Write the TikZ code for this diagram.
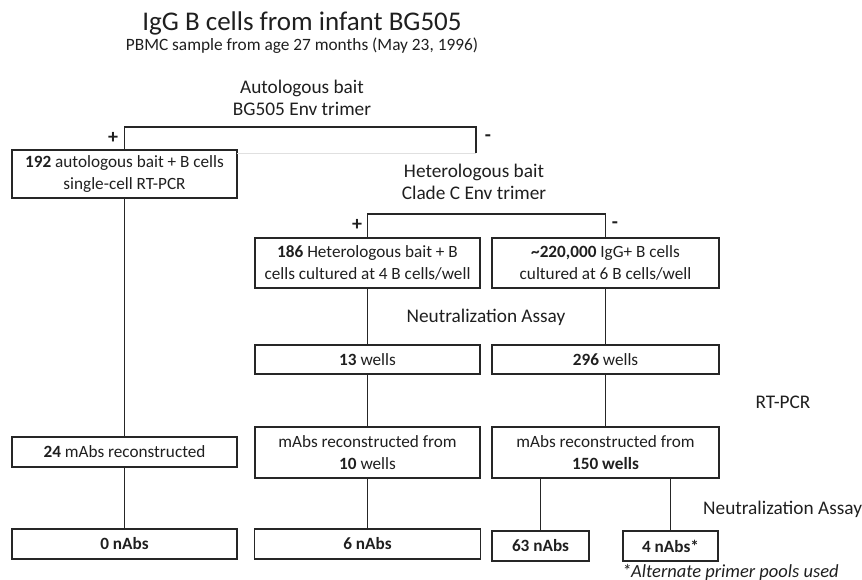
\documentclass[tikz,border=0pt]{standalone}
\usepackage{fontspec}
\setmainfont{Carlito}
\begin{document}
\begin{tikzpicture}[x=1pt,y=-1pt,
  every node/.style={inner sep=0pt, outer sep=0pt, text=black!88},
  bx/.style={draw=black!85, line width=1.4pt, align=center, font=\fontsize{17.2}{21.5}\selectfont},
  bxb/.style={bx, font=\fontsize{17.2}{21.5}\selectfont\bfseries},
  conn/.style={draw=black!85, line width=1.3pt},
  lbl/.style={align=center, font=\fontsize{19.3}{22}\selectfont},
  sgn/.style={font=\fontsize{20}{20}\selectfont\bfseries}]
\useasboundingbox (0,0) rectangle (862,580);
% titles
\node[font=\fontsize{27}{30}\selectfont] (title) at (302,23) {IgG B cells from infant BG505};
\node[font=\fontsize{17.3}{20}\selectfont] (sub) at (302,46) {PBMC sample from age 27 months (May 23, 1996)};
\node[lbl] (auto) at (302,98) {Autologous bait\\BG505 Env trimer};
\node[lbl] (het) at (474,182) {Heterologous bait\\Clade C Env trimer};
\node[lbl] (neut1) at (486,317) {Neutralization Assay};
\node[lbl] (rt) at (783,402) {RT-PCR};
\node[lbl, anchor=east] (neut2) at (862,509) {Neutralization Assay};
\node[font=\fontsize{18.5}{20}\selectfont\itshape, anchor=west] (alt) at (622,572) {*Alternate primer pools used};
% boxes
\node[bx, minimum width=225pt, minimum height=48pt] (b1) at (124.5,174) {\textbf{192} autologous bait + B cells\\single-cell RT-PCR};
\node[bx, minimum width=225pt, minimum height=50pt] (hA) at (367.5,263) {\textbf{186} Heterologous bait + B\\cells cultured at 4 B cells/well};
\node[bx, minimum width=227pt, minimum height=50pt] (hB) at (605.5,263) {\textbf{\textasciitilde 220,000} IgG+ B cells\\cultured at 6 B cells/well};
\node[bx, minimum width=225pt, minimum height=29pt] (w13) at (367.5,359.5) {\textbf{13} wells};
\node[bx, minimum width=227pt, minimum height=29pt] (w296) at (605.5,359.5) {\textbf{296} wells};
\node[bx, minimum width=225pt, minimum height=30pt] (m24) at (124.5,452) {\textbf{24} mAbs reconstructed};
\node[bx, minimum width=225pt, minimum height=51pt] (m10) at (367.5,452.5) {mAbs reconstructed from\\\textbf{10} wells};
\node[bx, minimum width=227pt, minimum height=51pt] (m150) at (605.5,452.5) {mAbs reconstructed from\\\textbf{150 wells}};
\node[bxb, minimum width=225pt, minimum height=30pt] (n0) at (124.5,544) {0 nAbs};
\node[bxb, minimum width=226pt, minimum height=30pt] (n6) at (367.5,544) {6 nAbs};
\node[bxb, minimum width=97pt, minimum height=30pt] (n63) at (540.5,546) {63 nAbs};
\node[bxb, minimum width=95pt, minimum height=30pt] (n4) at (670.5,546) {4 nAbs*};
% signs
\node[sgn] (p1) at (113,138) {+};
\node[sgn] (m1) at (488,138) {-};
\node[sgn] (p2) at (357,225) {+};
\node[sgn] (m2) at (615,225) {-};
% bracket 1
\coordinate (t1) at (124.5,127);
\coordinate (t2) at (476,127);
\coordinate (r1) at (476,153);
\coordinate (g1) at (237,153);
\draw[black!12, line width=0.8pt] (g1) -- (r1);
\draw[conn] (b1.north) -- (t1) -- (t2) -- (r1);
% bracket 2
\coordinate (t3) at (367.5,214);
\coordinate (t4) at (605.5,214);
\draw[conn] (hA.north) -- (t3) -- (t4) -- (hB.north);
% vertical connectors
\draw[conn] (b1.south) -- (m24.north);
\draw[conn] (m24.south) -- (n0.north);
\draw[conn] (hA.south) -- (w13.north);
\draw[conn] (hB.south) -- (w296.north);
\draw[conn] (w13.south) -- (m10.north);
\draw[conn] (w296.south) -- (m150.north);
\draw[conn] (m10.south) -- (n6.north);
\draw[conn] (n63.north |- m150.south) -- (n63.north);
\draw[conn] (n4.north |- m150.south) -- (n4.north);
\end{tikzpicture}
\end{document}
